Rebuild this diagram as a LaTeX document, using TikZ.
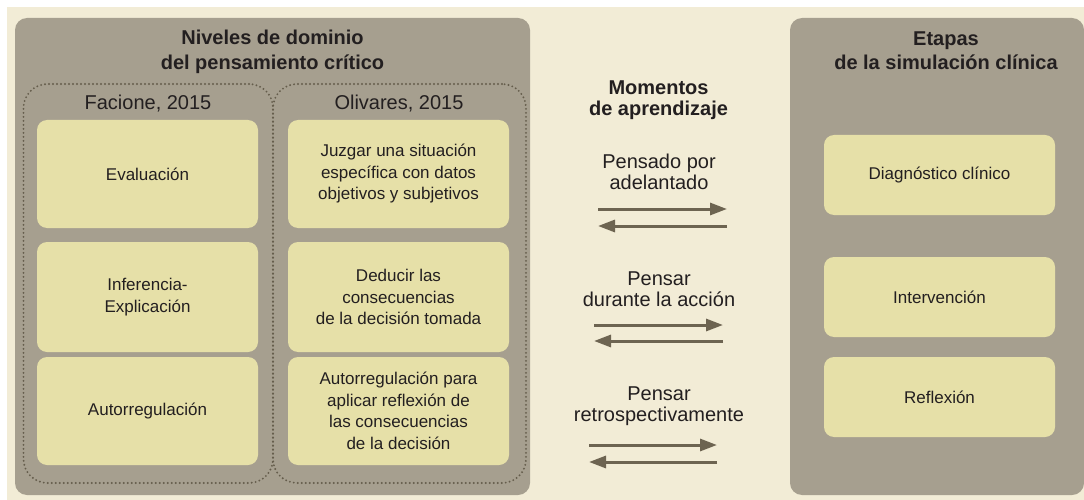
\documentclass[tikz,border=0pt]{standalone}
\usepackage{fontspec}
\setmainfont{Liberation Sans}
\usepackage{xcolor}
\usetikzlibrary{arrows.meta,positioning}
\definecolor{simCream}{HTML}{F2ECD6}
\definecolor{simPanel}{HTML}{A69F8F}
\definecolor{simYellow}{HTML}{E6E0A8}
\definecolor{simDot}{HTML}{655D4C}
\definecolor{simArrow}{HTML}{6D6451}
\definecolor{simText}{HTML}{231F20}

\begin{document}
\begin{tikzpicture}[
x=1pt, y=-1pt,
every node/.style={text=simText, inner sep=0pt, outer sep=0pt},
panel/.style={fill=simPanel, rounded corners=12pt},
group/.style={draw=simDot, line width=2.1pt, dash pattern=on 0pt off 4pt, line cap=round, rounded corners=24pt},
cell/.style={fill=simYellow, rounded corners=10pt, align=center, minimum width=221pt, minimum height=108pt, font=\fontsize{17}{21.5}\selectfont},
cellE/.style={cell, minimum width=231pt, minimum height=80pt},
headT/.style={align=center, font=\fontsize{20}{24.5}\selectfont\bfseries},
author/.style={font=\fontsize{20}{24}\selectfont},
moment/.style={align=center, font=\fontsize{20}{21}\selectfont},
arr/.style={draw=simArrow, line width=3pt, -{Triangle[length=17pt,width=12pt]}}
]
\useasboundingbox (0,0) rectangle (1084,500);
\fill[simCream] (7,7) rectangle (1084,500);

% Left panel: niveles de dominio
\node[panel, minimum width=515pt, minimum height=477pt] (niveles) at (272.5,256.5) {};
\node[headT, below=12.4pt of niveles.north] (nivelesT) {Niveles de dominio\\del pensamiento cr\'itico};
\node[group, minimum width=249.5pt, minimum height=399pt] (facione) at (148.25,283.5) {};
\node[group, minimum width=253pt, minimum height=399pt] (olivares) at (399.5,283.5) {};
\node[author, anchor=base] (facioneL) at (148,110) {Facione, 2015};
\node[author, anchor=base] (olivaresL) at (399,110) {Olivares, 2015};

\node[cell] (F1) at (147.5,174) {Evaluaci\'on};
\node[cell, below=14pt of F1, minimum height=110pt] (F2) {Inferencia-\\Explicaci\'on};
\node[cell, below=5pt of F2] (F3) {Autorregulaci\'on};
\node[cell, right=30pt of F1] (O1) {Juzgar una situaci\'on\\espec\'ifica con datos\\objetivos y subjetivos};
\node[cell, right=30pt of F2, minimum height=110pt] (O2) {Deducir las\\consecuencias\\de la decisi\'on tomada};
\node[cell, right=30pt of F3] (O3) {Autorregulaci\'on para\\aplicar reflexi\'on de\\las consecuencias\\de la decisi\'on};

% Middle: momentos de aprendizaje
\node[headT, anchor=north, font=\fontsize{20}{21}\selectfont\bfseries] (momT) at (658.5,80.7) {Momentos\\de aprendizaje};
\node[moment, anchor=north] (M1) at (659,154.4) {Pensado por\\adelantado};
\node[moment, anchor=north] (M2) at (659,271.7) {Pensar\\durante la acci\'on};
\node[moment, anchor=north] (M3) at (659,387.2) {Pensar\\retrospectivamente};

\coordinate (r1s) at (598,209); \coordinate (r1e) at (727,209);
\coordinate[below=17pt of r1e] (l1s); \coordinate[below=17pt of r1s] (l1e);
\coordinate (r2s) at (594,325); \coordinate (r2e) at (723,325);
\coordinate[below=16pt of r2e] (l2s); \coordinate[below=16pt of r2s] (l2e);
\coordinate (r3s) at (589,445); \coordinate (r3e) at (717,445);
\coordinate[below=17pt of r3e] (l3s); \coordinate[below=17pt of r3s] (l3e);
\draw[arr] (r1s) -- (r1e); \draw[arr] (l1s) -- (l1e);
\draw[arr] (r2s) -- (r2e); \draw[arr] (l2s) -- (l2e);
\draw[arr] (r3s) -- (r3e); \draw[arr] (l3s) -- (l3e);

% Right panel: etapas
\node[panel, minimum width=294pt, minimum height=477pt] (etapas) at (937,256.5) {};
\node[headT, below=13.7pt of etapas.north, xshift=9pt] (etapasT) {Etapas\\de la simulaci\'on cl\'inica};
\node[cellE] (E1) at (939.5,175) {Diagn\'ostico cl\'inico};
\node[cellE, below=42pt of E1] (E2) {Intervenci\'on};
\node[cellE, below=20pt of E2] (E3) {Reflexi\'on};

\end{tikzpicture}
\end{document}
